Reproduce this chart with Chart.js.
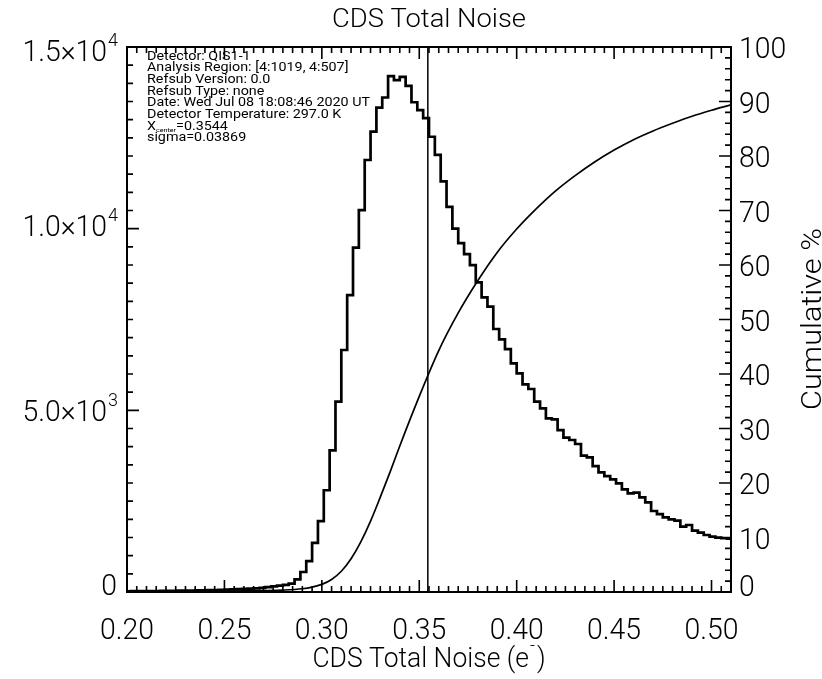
<!DOCTYPE html>
<html><head><meta charset="utf-8">
<script src="https://cdn.jsdelivr.net/npm/chart.js@4.4.1/dist/chart.umd.min.js"></script>
<style>html,body{margin:0;padding:0;background:#fff;}#wrap{width:822px;height:679px;}</style>
</head><body>
<div id="wrap"><canvas id="c" width="822" height="679"></canvas></div>
<script>
// ---------------- data ----------------
const binCenters = [
  0.2005,0.2035,0.2065,0.2095,0.2125,0.2155,0.2185,0.2215,0.2245,0.2275,
  0.2305,0.2335,0.2365,0.2395,0.2425,0.2455,0.2485,0.2515,0.2545,0.2575,
  0.2605,0.2635,0.2665,0.2695,0.2725,0.2755,0.2785,0.2815,0.2845,0.2875,
  0.2905,0.2935,0.2965,0.2995,0.3025,0.3055,0.3085,0.3115,0.3145,0.3175,
  0.3205,0.3235,0.3265,0.3295,0.3325,0.3355,0.3385,0.3415,0.3445,0.3475,
  0.3505,0.3535,0.3565,0.3595,0.3625,0.3655,0.3685,0.3715,0.3745,0.3775,
  0.3805,0.3835,0.3865,0.3895,0.3925,0.3955,0.3985,0.4015,0.4045,0.4075,
  0.4105,0.4135,0.4165,0.4195,0.4225,0.4255,0.4285,0.4315,0.4345,0.4375,
  0.4405,0.4435,0.4465,0.4495,0.4525,0.4555,0.4585,0.4615,0.4645,0.4675,
  0.4705,0.4735,0.4765,0.4795,0.4825,0.4855,0.4885,0.4915,0.4945,0.4975,
  0.5005,0.5035,0.5065,0.5095
];
const counts = [
  20,22,24,25,27,28,30,32,34,36,
  38,41,44,47,51,55,60,66,72,78,
  84,92,100,115,135,155,175,195,230,350,
  550,850,1350,1950,2800,3900,5240,6660,8170,9480,
  10510,11890,12670,13330,13610,14200,14090,14180,13930,13480,
  13260,13040,12530,12030,11300,10600,10000,9600,9300,8999,
  8522,8110,7853,7238,6955,6687,6293,6018,5716,5587,
  5238,5055,4780,4752,4458,4247,4183,4073,3751,3705,
  3467,3293,3191,3100,2990,2826,2716,2733,2606,2468,
  2229,2146,2055,2000,1962,1797,1844,1687,1632,1569,
  1522,1494,1480,1470
];
const cumX   = [0.20,0.21,0.22,0.23,0.24,0.25,0.26,0.27,0.28,0.29,0.295,0.30,0.305,0.31,0.315,0.32,0.325,0.33,0.335,0.34,0.35,0.36,0.37,0.38,0.39,0.40,0.41,0.42,0.43,0.44,0.45,0.46,0.47,0.48,0.49,0.50,0.51];
const cumPct = [0.0,0.02,0.04,0.07,0.10,0.14,0.19,0.25,0.35,0.6,0.9,1.4,2.3,3.8,6.1,9.2,13.0,17.4,22.0,26.8,35.9,44.3,51.2,57.1,62.3,66.6,70.3,73.6,76.4,78.9,81.1,83.0,84.6,86.0,87.3,88.4,89.4];
const xCenterValue = 0.3544;
const sigmaValue = 0.03869;

const xTickValues = [0.20,0.25,0.30,0.35,0.40,0.45,0.50];
const xTickLabels = ['0.20','0.25','0.30','0.35','0.40','0.45','0.50'];
const yTickValues = [0,5000,10000,15000];
const yTickMantissa = ['0','5.0\u00d710','1.0\u00d710','1.5\u00d710'];
const yTickExponent = ['','3','4','4'];
const y2TickValues = [0,10,20,30,40,50,60,70,80,90,100];
const y2TickLabels = ['0','10','20','30','40','50','60','70','80','90','100'];

const titleText = 'CDS Total Noise';
const xTitleText = 'CDS Total Noise (e';
const xTitleSup = '-';
const y2TitleText = 'Cumulative %';
const infoLines = [
  'Detector: QIS1-1',
  'Analysis Region: [4:1019, 4:507]',
  'Refsub Version: 0.0',
  'Refsub Type: none',
  'Date: Wed Jul 08 18:08:46 2020 UT',
  'Detector Temperature: 297.0 K'
];

// ---------------- drawing ----------------
const FONT = 'Roboto, "Liberation Sans", Arial, sans-serif';
function txt(ctx, s, x, y, size, align, sxf, weight){
  ctx.save();
  ctx.font = (weight || '300') + ' ' + size + 'px ' + FONT;
  ctx.textBaseline = 'alphabetic';
  ctx.translate(x, y);
  ctx.scale(sxf, 1);
  ctx.textAlign = align;
  ctx.fillText(s, 0, 0);
  ctx.restore();
}
function width(ctx, s, size, weight){ ctx.save(); ctx.font = (weight || '300') + ' ' + size + 'px ' + FONT; const w = ctx.measureText(s).width; ctx.restore(); return w; }

const framePlugin = {
  id: 'frame',
  afterDraw(chart){
    const {ctx, chartArea: a, scales} = chart;
    const sx = scales.x, sy = scales.y, sy2 = scales.y2;
    ctx.save();
    ctx.fillStyle = '#000';
    ctx.strokeStyle = '#000';
    ctx.lineWidth = 2;
    ctx.strokeRect(a.left, a.top, a.right - a.left, a.bottom - a.top);
    ctx.lineWidth = 1.6;
    ctx.beginPath();
    for (let i = 0; i <= 62; i++) {
      const px = sx.getPixelForValue(0.2 + i * 0.005);
      if (px > a.right + 0.5) break;
      const L = (i % 10 === 0) ? 12 : 6;
      ctx.moveTo(px, a.bottom); ctx.lineTo(px, a.bottom - L);
      ctx.moveTo(px, a.top); ctx.lineTo(px, a.top + L);
    }
    for (let i = 0; i <= 30; i++) {
      const py = sy.getPixelForValue(i * 500);
      const L = (i % 10 === 0) ? 12 : 6;
      ctx.moveTo(a.left, py); ctx.lineTo(a.left + L, py);
    }
    for (let i = 0; i <= 50; i++) {
      const py = sy2.getPixelForValue(i * 2);
      const L = (i % 5 === 0) ? 12 : 6;
      ctx.moveTo(a.right, py); ctx.lineTo(a.right - L, py);
    }
    ctx.stroke();

    const TS = 30;
    const tsx = 54 / width(ctx, '0.20', TS);
    xTickValues.forEach((v, i) => {
      txt(ctx, xTickLabels[i], sx.getPixelForValue(v), 639, TS, 'center', tsx);
    });
    yTickValues.forEach((v, i) => {
      const py = sy.getPixelForValue(v);
      const right = 118;
      const m = yTickMantissa[i], e = yTickExponent[i];
      const ew = e ? width(ctx, e, 19) * tsx : 0;
      let cy = py;
      if (i === 0) cy = py - 8;
      if (i === 2) cy = py - 4;
      if (i === 3) cy = py + 3;
      if (e) txt(ctx, e, right, cy - 4, 19, 'right', tsx);
      txt(ctx, m, right - ew - 1, cy + 11, TS, 'right', tsx);
    });
    y2TickValues.forEach((v, i) => {
      let py = sy2.getPixelForValue(v);
      if (i === 0) py -= 7;
      txt(ctx, y2TickLabels[i], 739, py + 11, TS, 'left', tsx);
    });

    const titleS = 194 / width(ctx, titleText, 26);
    txt(ctx, titleText, (a.left + a.right) / 2, 27, 26, 'center', titleS);
    const xs = 28;
    const xw = width(ctx, xTitleText, xs) * tsx;
    const supw = width(ctx, ')', xs) * tsx + 8;
    const startX = (a.left + a.right) / 2 - (xw + supw) / 2;
    txt(ctx, xTitleText, startX, 667, xs, 'left', tsx);
    txt(ctx, xTitleSup, startX + xw + 1, 651, 18, 'left', tsx);
    txt(ctx, ')', startX + xw + 8, 667, xs, 'left', tsx);
    const y2s = 182 / width(ctx, y2TitleText, 28);
    ctx.save();
    ctx.translate(821, 319);
    ctx.rotate(-Math.PI / 2);
    txt(ctx, y2TitleText, 0, 0, 28, 'center', y2s);
    ctx.restore();

    const IS = 12, W = '400';
    const isx = 223 / width(ctx, infoLines[4], IS, W);
    const x0 = 147, b0 = 59.5, dy = 11.67;
    infoLines.forEach((s, i) => txt(ctx, s, x0, b0 + i * dy, IS, 'left', isx, W));
    const yb = b0 + 6 * dy;
    txt(ctx, 'X', x0, yb, IS, 'left', isx, W);
    const wx = width(ctx, 'X', IS, W) * isx;
    txt(ctx, 'center', x0 + wx, yb + 2.5, 6, 'left', isx, W);
    const wc = width(ctx, 'center', 6, W) * isx;
    txt(ctx, '=' + xCenterValue.toFixed(4), x0 + wx + wc, yb, IS, 'left', isx, W);
    txt(ctx, 'sigma=' + sigmaValue.toFixed(5), x0, b0 + 7 * dy, IS, 'left', isx, W);
    ctx.restore();
  }
};

new Chart(document.getElementById('c').getContext('2d'), {
  type: 'line',
  data: {
    datasets: [
      { data: binCenters.map((x, i) => ({x: x, y: counts[i]})), yAxisID: 'y', stepped: 'middle',
        borderColor: '#000', borderWidth: 2.7, pointRadius: 0, fill: false },
      { data: cumX.map((x, i) => ({x: x, y: cumPct[i]})), yAxisID: 'y2', cubicInterpolationMode: 'monotone',
        borderColor: '#000', borderWidth: 1.7, pointRadius: 0, fill: false },
      { data: [{x: xCenterValue, y: 0}, {x: xCenterValue, y: 15000}], yAxisID: 'y',
        borderColor: '#000', borderWidth: 1.5, pointRadius: 0, fill: false }
    ]
  },
  options: {
    responsive: false, animation: false, devicePixelRatio: 1,
    layout: { padding: { left: 127, right: 91, top: 47, bottom: 87 } },
    plugins: { legend: { display: false }, tooltip: { enabled: false }, title: { display: false } },
    scales: {
      x: { type: 'linear', min: 0.2, max: 0.51, display: false },
      y: { type: 'linear', min: 0, max: 15000, display: false },
      y2: { type: 'linear', min: 0, max: 100, display: false, position: 'right' }
    }
  },
  plugins: [framePlugin]
});
</script>
</body></html>
